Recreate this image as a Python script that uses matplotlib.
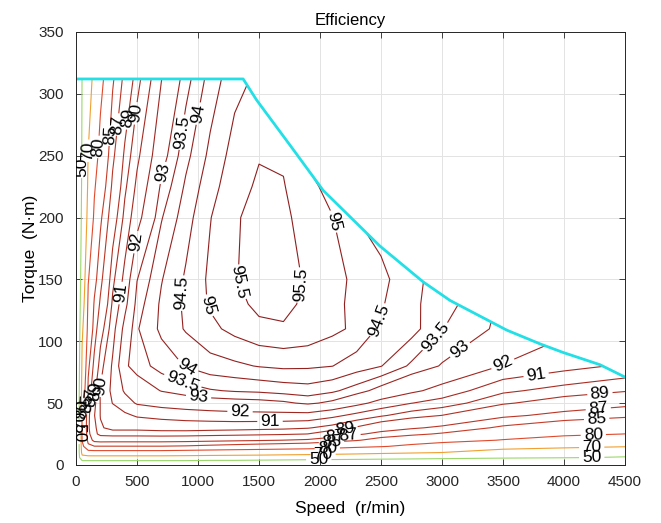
import numpy as np
import matplotlib.pyplot as plt
from matplotlib.colors import LinearSegmentedColormap, Normalize
from matplotlib.patches import Polygon

plt.rcParams['font.family'] = ['Liberation Sans', 'DejaVu Sans']

# efficiency map (rows = torque, cols = speed)
speed = [0, 25, 50, 100, 150, 200, 300, 400, 500, 700, 900, 1100, 1300,
         1500, 1700, 1900, 2100, 2300, 2500, 2750, 3000, 3500, 4000, 4500]
torque = [0, 3, 6, 10, 15, 20, 25, 30, 40, 50, 60, 80, 110, 130, 150, 200, 225, 250, 312]

eff = [
    [0] * 24,
    [0, 40, 47, 46.9, 46.9, 46.9, 46.9, 46.9, 46.9, 46.9, 46.9, 45.5, 45.5, 44.1, 42.9, 41.7, 40.5, 39.5, 38.5, 37.5, 35.7, 31.3, 27.8, 24.2],
    [0, 47, 65, 66, 66, 66, 66, 66, 66, 66, 65.6, 65, 64.6, 64.1, 63.2, 62.3, 61.5, 60.5, 59.1, 57.7, 56.2, 53.5, 51.6, 48.4],
    [0, 48.5, 75, 77.5, 77.7, 77.7, 77.7, 77.7, 77.7, 77.7, 77.3, 76.9, 76.5, 76.2, 75.7, 75.3, 74.6, 73.6, 72.5, 71.2, 69.9, 65.3, 62.6, 59.4],
    [0, 49, 78.5, 84.4, 84.9, 84.9, 84.9, 84.9, 84.9, 84.9, 84.75, 84.4, 84.05, 83.7, 83.4, 83.04, 82.25, 81.25, 80.36, 78.8, 77.14, 73.95, 72.37, 70.65],
    [0, 49, 80.3, 85.8, 87.6, 87.8, 87.75, 87.75, 87.75, 87.75, 87.65, 87.5, 87.35, 87.19, 86.98, 86.73, 86.05, 85.22, 83.93, 82.73, 81.76, 79.77, 77.53, 75.3],
    [0, 49, 81, 86.4, 88.6, 89.4, 89.56, 89.56, 89.56, 89.63, 89.61, 89.5, 89.4, 89.29, 89.17, 88.98, 88.09, 87.31, 86.4, 85.55, 84.7, 82.22, 81.03, 79.95],
    [0, 49, 81.2, 86.7, 88.6, 89.9, 90.25, 90.25, 90.25, 90.32, 90.35, 90.34, 90.32, 90.27, 90.21, 90.07, 89.63, 88.85, 87.93, 87.24, 86.64, 84.54, 83.02, 81.97],
    [0, 49, 81, 86.5, 88.95, 90.04, 90.42, 90.81, 91.11, 91.31, 91.47, 91.58, 91.67, 91.69, 91.7, 91.68, 91.27, 90.71, 90.14, 89.45, 88.98, 87.43, 86.37, 85.57],
    [0, 48.8, 78.8, 85.95, 88.7, 90.05, 91.03, 91.58, 92.1, 92.38, 92.55, 92.67, 92.73, 92.78, 92.89, 93.11, 92.86, 92.29, 91.67, 91.02, 90.57, 89.16, 88.33, 87.58],
    [0, 48, 75.3, 85.6, 88.7, 90.09, 91.25, 92.12, 92.55, 93.03, 93.27, 93.45, 93.55, 93.6, 93.7, 93.78, 93.6, 93.25, 92.75, 92.2, 91.65, 90.2, 89.6, 89.1],
    [0, 46.3, 72.4, 84.5, 87.6, 89.63, 91.14, 92.89, 93.26, 93.7, 94.03, 94.3, 94.4, 94.53, 94.6, 94.58, 94.51, 94.25, 94.02, 93.4, 92.95, 91.95, 91.35, 90.85],
    [0, 43.1, 68.3, 82.1, 86.0, 88.4, 90.63, 92.33, 93.45, 94.11, 94.55, 94.87, 95.15, 95.38, 95.45, 95.35, 95.12, 94.9, 94.4, 94.2, 93.52, 92.85, 92.2, 91.3],
    [0, 40.3, 64.6, 81.2, 85.3, 87.3, 90.19, 91.71, 93.25, 94.09, 94.6, 95.06, 95.35, 95.62, 95.62, 95.4, 95.12, 94.88, 94.55, 94.12, 93.72, 92.9, 92.0, 91.2],
    [0, 37.9, 61.7, 79.7, 84.15, 86.5, 89.75, 91.31, 92.98, 93.97, 94.57, 95.1, 95.47, 95.68, 95.7, 95.43, 95.15, 94.9, 94.62, 94.2, 93.7, 92.9, 92.0, 91.2],
    [0, 33.8, 56.3, 73.8, 81.0, 84.6, 88.25, 90.31, 91.66, 93.46, 94.29, 94.98, 95.45, 95.65, 95.6, 95.3, 95.02, 94.5, 94.3, 93.5, 93.0, 92.2, 91.5, 90.8],
    [0, 31.5, 54.2, 71.8, 79.4, 83.2, 87.4, 89.8, 91.23, 93.12, 94.09, 94.82, 95.3, 95.58, 95.53, 95.15, 94.82, 94.35, 94.05, 93.4, 92.9, 92.1, 91.4, 90.7],
    [0, 29.8, 52.9, 70.4, 77.2, 81.9, 86.6, 89.29, 90.79, 92.72, 93.85, 94.63, 95.2, 95.47, 95.44, 94.9, 94.6, 94.2, 93.8, 93.3, 92.8, 92.0, 91.3, 90.6],
    [0, 26.6, 50.8, 64.5, 73.2, 78.4, 84.7, 87.6, 89.65, 91.98, 93.3, 94.21, 94.84, 95.1, 94.95, 94.7, 94.3, 93.9, 93.5, 93.0, 92.5, 91.8, 91.2, 90.5],
]

# peak torque envelope
env_speed = [0, 1370, 1480, 1780, 2025, 2490, 2845, 3065, 3530, 3800, 3990, 4295, 4500]
env_torque = [312, 312, 295, 255, 222, 177, 148, 133, 109, 98, 91, 81, 71]

levels = [50, 70, 80, 85, 87, 89, 90, 91, 92, 93, 93.5, 94, 94.5, 95, 95.5]

# where the labels sit (speed, torque)
label_pos = [
    (33, 241), (85, 254), (197, 257), (279, 267), (361, 275), (443, 280), (511, 284),
    (360, 139), (497, 180), (713, 236), (866, 269), (1003, 284),
    (852, 139), (1057, 128), (1344, 148), (1870, 145),
    (2123, 197), (2478, 117), (2956, 103), (3148, 93), (3503, 81), (3776, 70),
    (4295, 57), (4281, 45), (4268, 36), (4240, 24), (4227, 13.5), (4227, 5.4),
    (893, 76), (866, 66), (1003, 54), (1344, 41), (1590, 35.6), (2205, 30),
    (1990, 3.4), (2025, 7.5), (2060, 12.2), (2095, 16.6), (2130, 20.6), (2165, 25.2),
    (22, 26), (38, 36), (55, 45), (90, 50), (125, 55), (165, 60), (205, 64),
]

fig = plt.figure(figsize=(6.61, 5.23), dpi=100)
ax = fig.add_axes([0.115, 0.111, 0.8306, 0.8279])

cmap = LinearSegmentedColormap.from_list(
    'effmap', [(0, '#9ad86a'), (0.44, '#f0a030'), (0.66, '#e04a2c'), (1, '#8e1f1f')])
cs = ax.contour(speed, torque, np.array(eff), levels=levels, cmap=cmap,
                norm=Normalize(50, 95.5), linewidths=0.8)

region = Polygon(np.column_stack([[0] + env_speed + [4500], [0] + env_torque + [0]]),
                 closed=True, transform=ax.transData, facecolor='none', edgecolor='none')
cs.set_clip_path(region)

ax.clabel(cs, levels, inline=True, fontsize=12.5, colors='k',
          fmt=lambda v: f'{v:g}', manual=label_pos, inline_spacing=3)

ax.plot(env_speed, env_torque, color='#22e0e6', lw=2)

ax.set_xlim(0, 4500)
ax.set_ylim(0, 350)
ax.set_xticks(range(0, 4501, 500))
ax.set_yticks(range(0, 351, 50))
ax.grid(color='#e3e3e3', lw=0.7)
ax.set_axisbelow(True)
ax.tick_params(direction='in', top=True, right=True, length=4, width=0.6,
               labelsize=11, colors='#262626')
ax.tick_params(axis='x', pad=7)
ax.tick_params(axis='y', pad=9)
for sp in ax.spines.values():
    sp.set_color('#262626')
    sp.set_linewidth(0.7)

ax.set_title('Efficiency', fontsize=12, pad=5)
ax.set_xlabel('Speed  (r/min)', fontsize=12.5, labelpad=9)
ax.set_ylabel('Torque  (N·m)', fontsize=12.5, labelpad=0)

plt.savefig('out.png', dpi=100)
